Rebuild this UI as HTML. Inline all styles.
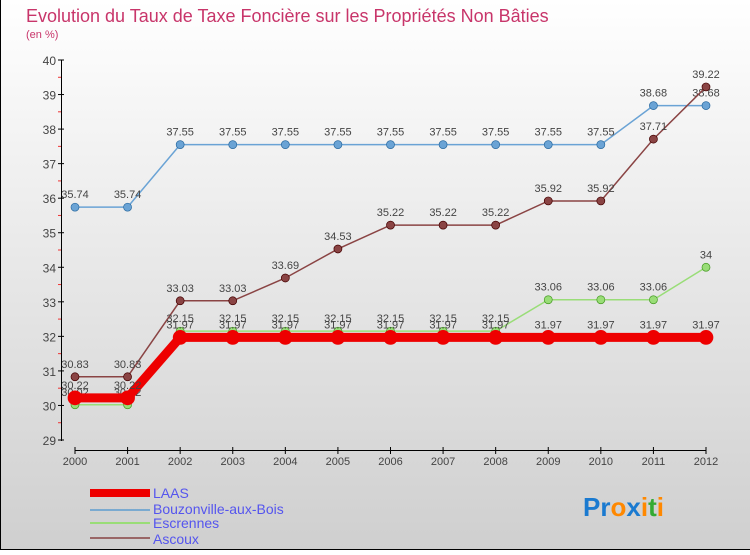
<!DOCTYPE html>
<html><head><meta charset="utf-8"><style>
body{margin:0;width:750px;height:550px;overflow:hidden;font-family:"Liberation Sans",sans-serif}
</style></head><body>
<svg id="c" width="750" height="550" xmlns="http://www.w3.org/2000/svg">
<defs><linearGradient id="bg" x1="0" y1="0" x2="0" y2="1"><stop offset="0" stop-color="#ffffff"/><stop offset="1" stop-color="#cfcfcf"/></linearGradient></defs>
<rect x="0" y="0" width="750" height="550" fill="url(#bg)"/>
<line x1="0.5" y1="0" x2="0.5" y2="550" stroke="#000"/>
<line x1="0" y1="549.5" x2="750" y2="549.5" stroke="#000"/>
<text x="26" y="22" font-size="18" fill="#c8356a">Evolution du Taux de Taxe Foncière sur les Propriétés Non Bâties</text>
<text x="26" y="38" font-size="11" fill="#c8356a">(en %)</text>
<g id="axes"></g><g id="series"></g>
<g>
<rect x="90" y="489" width="60" height="8" fill="#ee0000"/>
<text x="153" y="498" font-size="14" fill="#5555ee">LAAS</text>
<line x1="90" y1="510" x2="150" y2="510" stroke="#7aaad0" stroke-width="2"/>
<text x="153" y="514" font-size="14" fill="#5555ee">Bouzonville-aux-Bois</text>
<line x1="90" y1="523" x2="150" y2="523" stroke="#99dd77" stroke-width="2"/>
<text x="153" y="528" font-size="14" fill="#5555ee">Escrennes</text>
<line x1="90" y1="538" x2="150" y2="538" stroke="#996666" stroke-width="2"/>
<text x="153" y="544" font-size="14" fill="#5555ee">Ascoux</text>
</g>
<text x="583" y="516" font-size="26" font-weight="bold"><tspan fill="#1a7ad0">Pr</tspan><tspan fill="#ff8800">o</tspan><tspan fill="#1a7ad0">x</tspan><tspan fill="#ff8800">i</tspan><tspan fill="#33aa33">t</tspan><tspan fill="#ff8800">i</tspan></text>
</svg>
<script>
const years=[2000,2001,2002,2003,2004,2005,2006,2007,2008,2009,2010,2011,2012];
const laas=[30.22,30.22,31.97,31.97,31.97,31.97,31.97,31.97,31.97,31.97,31.97,31.97,31.97];
const bouzonville=[35.74,35.74,37.55,37.55,37.55,37.55,37.55,37.55,37.55,37.55,37.55,38.68,38.68];
const escrennes=[30.02,30.02,32.15,32.15,32.15,32.15,32.15,32.15,32.15,33.06,33.06,33.06,34];
const ascoux=[30.83,30.83,33.03,33.03,33.69,34.53,35.22,35.22,35.22,35.92,35.92,37.71,39.22];
const yTicks=[29,30,31,32,33,34,35,36,37,38,39,40];
const NS="http://www.w3.org/2000/svg";
const X=i=>75+i*(706-75)/(years.length-1);
const Y=v=>440-(v-29)*(380/11);
function mk(t,a,p){const e=document.createElementNS(NS,t);for(const k in a)e.setAttribute(k,a[k]);p.appendChild(e);return e;}
const ax=document.getElementById('axes');
let l=mk('line',{x1:61.5,y1:60,x2:61.5,y2:441,stroke:'#000'},ax);


yTicks.forEach(v=>{
 const t=mk('line',{x1:58,y1:Y(v),x2:64,y2:Y(v),stroke:'#000'},ax);
 
 
 if(v<40){const m=mk('line',{x1:58,y1:Y(v+0.5),x2:61,y2:Y(v+0.5),stroke:'#e33'},ax);
 
 }
 const tx=mk('text',{x:56,y:Y(v)+5,'font-size':12,'text-anchor':'end',fill:'#444'},ax);tx.textContent=v;
 
 
});
l=mk('line',{x1:X(0),y1:450.5,x2:X(12),y2:450.5,stroke:'#000'},ax);


years.forEach((y,i)=>{
 const t=mk('line',{x1:X(i),y1:447,x2:X(i),y2:454,stroke:'#000'},ax);
 
 
 const tx=mk('text',{x:X(i),y:465,'font-size':11,'text-anchor':'middle',fill:'#444'},ax);tx.textContent=y;
 
 
});
const sg=document.getElementById('series');
function series(vals,name,color,w,r,stroke){
 const g=mk('g',{},sg);
 
 
 const p=mk('polyline',{points:vals.map((v,i)=>X(i)+','+Y(v)).join(' '),fill:'none',stroke:color,'stroke-width':w},g);
 
 
 vals.forEach((v,i)=>{
  const c=mk('circle',{cx:X(i),cy:Y(v),r:r,fill:color,stroke:stroke,'stroke-width':0.7},g);
  
  
  const t=mk('text',{x:X(i),y:Y(v)-9,'font-size':11,'text-anchor':'middle',fill:'#444'},g);t.textContent=v;
  
  
 });
}
series(bouzonville,'bouzonville','#6aa3d5',1.5,4,'#2a6aa0');
series(ascoux,'ascoux','#8a4444',1.5,4,'#400');
series(escrennes,'escrennes','#99dd77',1.5,4,'#449922');
series(laas,'laas','#ee0000',9,7,'#ee0000');
</script>
</body></html>
